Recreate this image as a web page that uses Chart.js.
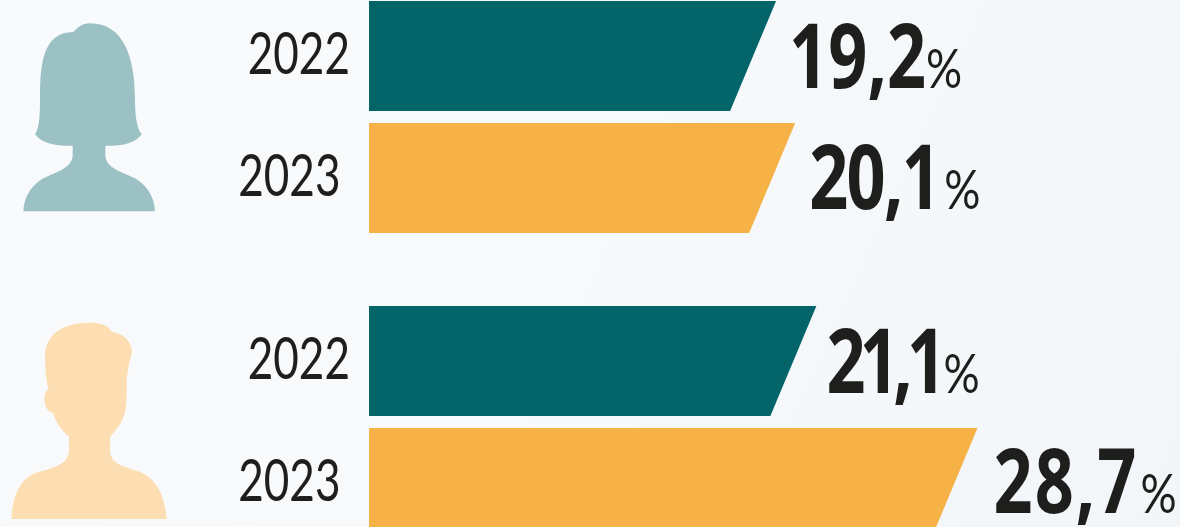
<!DOCTYPE html>
<html>
<head>
<meta charset="utf-8">
<script src="https://cdn.jsdelivr.net/npm/chart.js@4"></script>
<style>
  html, body { margin: 0; padding: 0; }
  body { width: 1180px; height: 527px; overflow: hidden; background: linear-gradient(115deg, #f9fafb 0%, #f7f9fb 50%, #f2f6f8 100%); }
  canvas { display: block; }
</style>
</head>
<body>
<canvas id="chart" width="1180" height="527"></canvas>
<script>
// blank slots keep the gap between the women and men groups
var years = ['2022', '', '2023', '', '', '2022', '', '2023'];
var shares = [19.2, null, 20.1, null, null, 21.1, null, 28.7];
var shareLabels = ['19,2', '', '20,1', '', '', '21,1', '', '28,7'];

// layout of the labels
var yearColors = { '2022': '#03656a', '2023': '#f6b247' };
var yearLabelRight = { '2022': 350, '2023': 340.5 };
var labelGaps = [13, 0, 14, 0, 0, 10, 0, 16];
var labelWidths = [137, 0, 130, 0, 0, 114, 0, 145];
var percentOffsets = [137, 0, 135, 0, 0, 117, 0, 147];
var labelDrops = [32, 0, 31, 0, 0, 32, 0, 30];
var inkColor = '#1e1e1c';
var slant = 46 / 110;

function squeezedText(ctx, text, x, y, font, squeeze, spacing) {
  ctx.save();
  ctx.font = font;
  ctx.letterSpacing = (spacing || 0) + 'px';
  ctx.fillStyle = inkColor;
  ctx.textBaseline = 'alphabetic';
  ctx.translate(x, y);
  ctx.scale(squeeze, 1);
  ctx.fillText(text, 0, 0);
  ctx.restore();
}

var womanIcon = new Path2D('M70 634 C72 590 95 555 130 535 C165 517 218 505 218 465 L218 437 C170 440 125 430 105 403 C118 385 120 345 120 300 C120 200 125 96 220 96 C235 80 250 70 270 70 C370 70 405 170 405 300 C405 345 410 385 425 403 C405 430 365 440 316 437 L316 465 C316 505 370 517 405 535 C440 555 463 590 465 634 Z');
var manIcon = new Path2D('M34 657 C38 590 60 540 100 522 C130 507 207 505 207 450 L207 410 C185 392 168 368 160 340 C140 335 133 315 133 295 C133 285 138 272 145 268 C138 235 135 205 135 170 C135 95 200 68 265 68 C300 68 325 75 335 95 C375 100 397 130 396 158 C385 195 380 225 380 260 C380 330 378 360 330 410 L330 450 C330 490 370 500 410 512 C470 530 495 590 500 657 Z');

var slantedBars = {
  id: 'slantedBars',
  beforeDatasetDraw: function(chart, args) {
    var ctx = chart.ctx;
    args.meta.data.forEach(function(bar, i) {
      if (shares[i] === null) return;
      var top = bar.y - bar.height / 2;
      var bottom = bar.y + bar.height / 2;
      ctx.fillStyle = yearColors[years[i]];
      ctx.beginPath();
      ctx.moveTo(bar.base, top);
      ctx.lineTo(bar.x, top);
      ctx.lineTo(bar.x - bar.height * slant, bottom);
      ctx.lineTo(bar.base, bottom);
      ctx.closePath();
      ctx.fill();
    });
    return false;
  },
  afterDraw: function(chart) {
    var ctx = chart.ctx;
    var meta = chart.getDatasetMeta(0);

    ctx.save();
    ctx.scale(1 / 3, 1 / 3);
    ctx.fillStyle = '#9bc1c4';
    ctx.fill(womanIcon);
    ctx.translate(0, 900);
    ctx.fillStyle = '#fcdeb2';
    ctx.fill(manIcon);
    ctx.restore();

    years.forEach(function(year, i) {
      if (!year) return;
      var y = chart.scales.y.getPixelForTick(i);
      var font = '400 58px Lato';
      ctx.font = font;
      var squeeze = 0.76;
      var w = ctx.measureText(year).width * squeeze;
      squeezedText(ctx, year, yearLabelRight[year] - w, y + 18, font, squeeze);

      var bar = meta.data[i];
      var valueFont = '700 90px "Open Sans"';
      var valueSqueeze = 0.76;
      ctx.font = valueFont;
      var spacing = (labelWidths[i] / valueSqueeze - ctx.measureText(shareLabels[i]).width) / 4;
      var base = y + labelDrops[i];
      var left = bar.x + labelGaps[i];
      squeezedText(ctx, shareLabels[i], left, base, valueFont, valueSqueeze, spacing);
      squeezedText(ctx, '%', left + percentOffsets[i], base, '400 55px Lato', 0.82);
    });
  }
};

new Chart(document.getElementById('chart'), {
  type: 'bar',
  data: {
    labels: years,
    datasets: [{ data: shares, barThickness: 110 }]
  },
  options: {
    indexAxis: 'y',
    responsive: false,
    animation: false,
    layout: { padding: { left: 369, right: 0, top: 25.5, bottom: 13.5 } },
    plugins: { legend: { display: false }, tooltip: { enabled: false } },
    scales: {
      x: { display: false, min: 0, max: 38.25 },
      y: { display: false }
    }
  },
  plugins: [slantedBars]
});
</script>
</body>
</html>
